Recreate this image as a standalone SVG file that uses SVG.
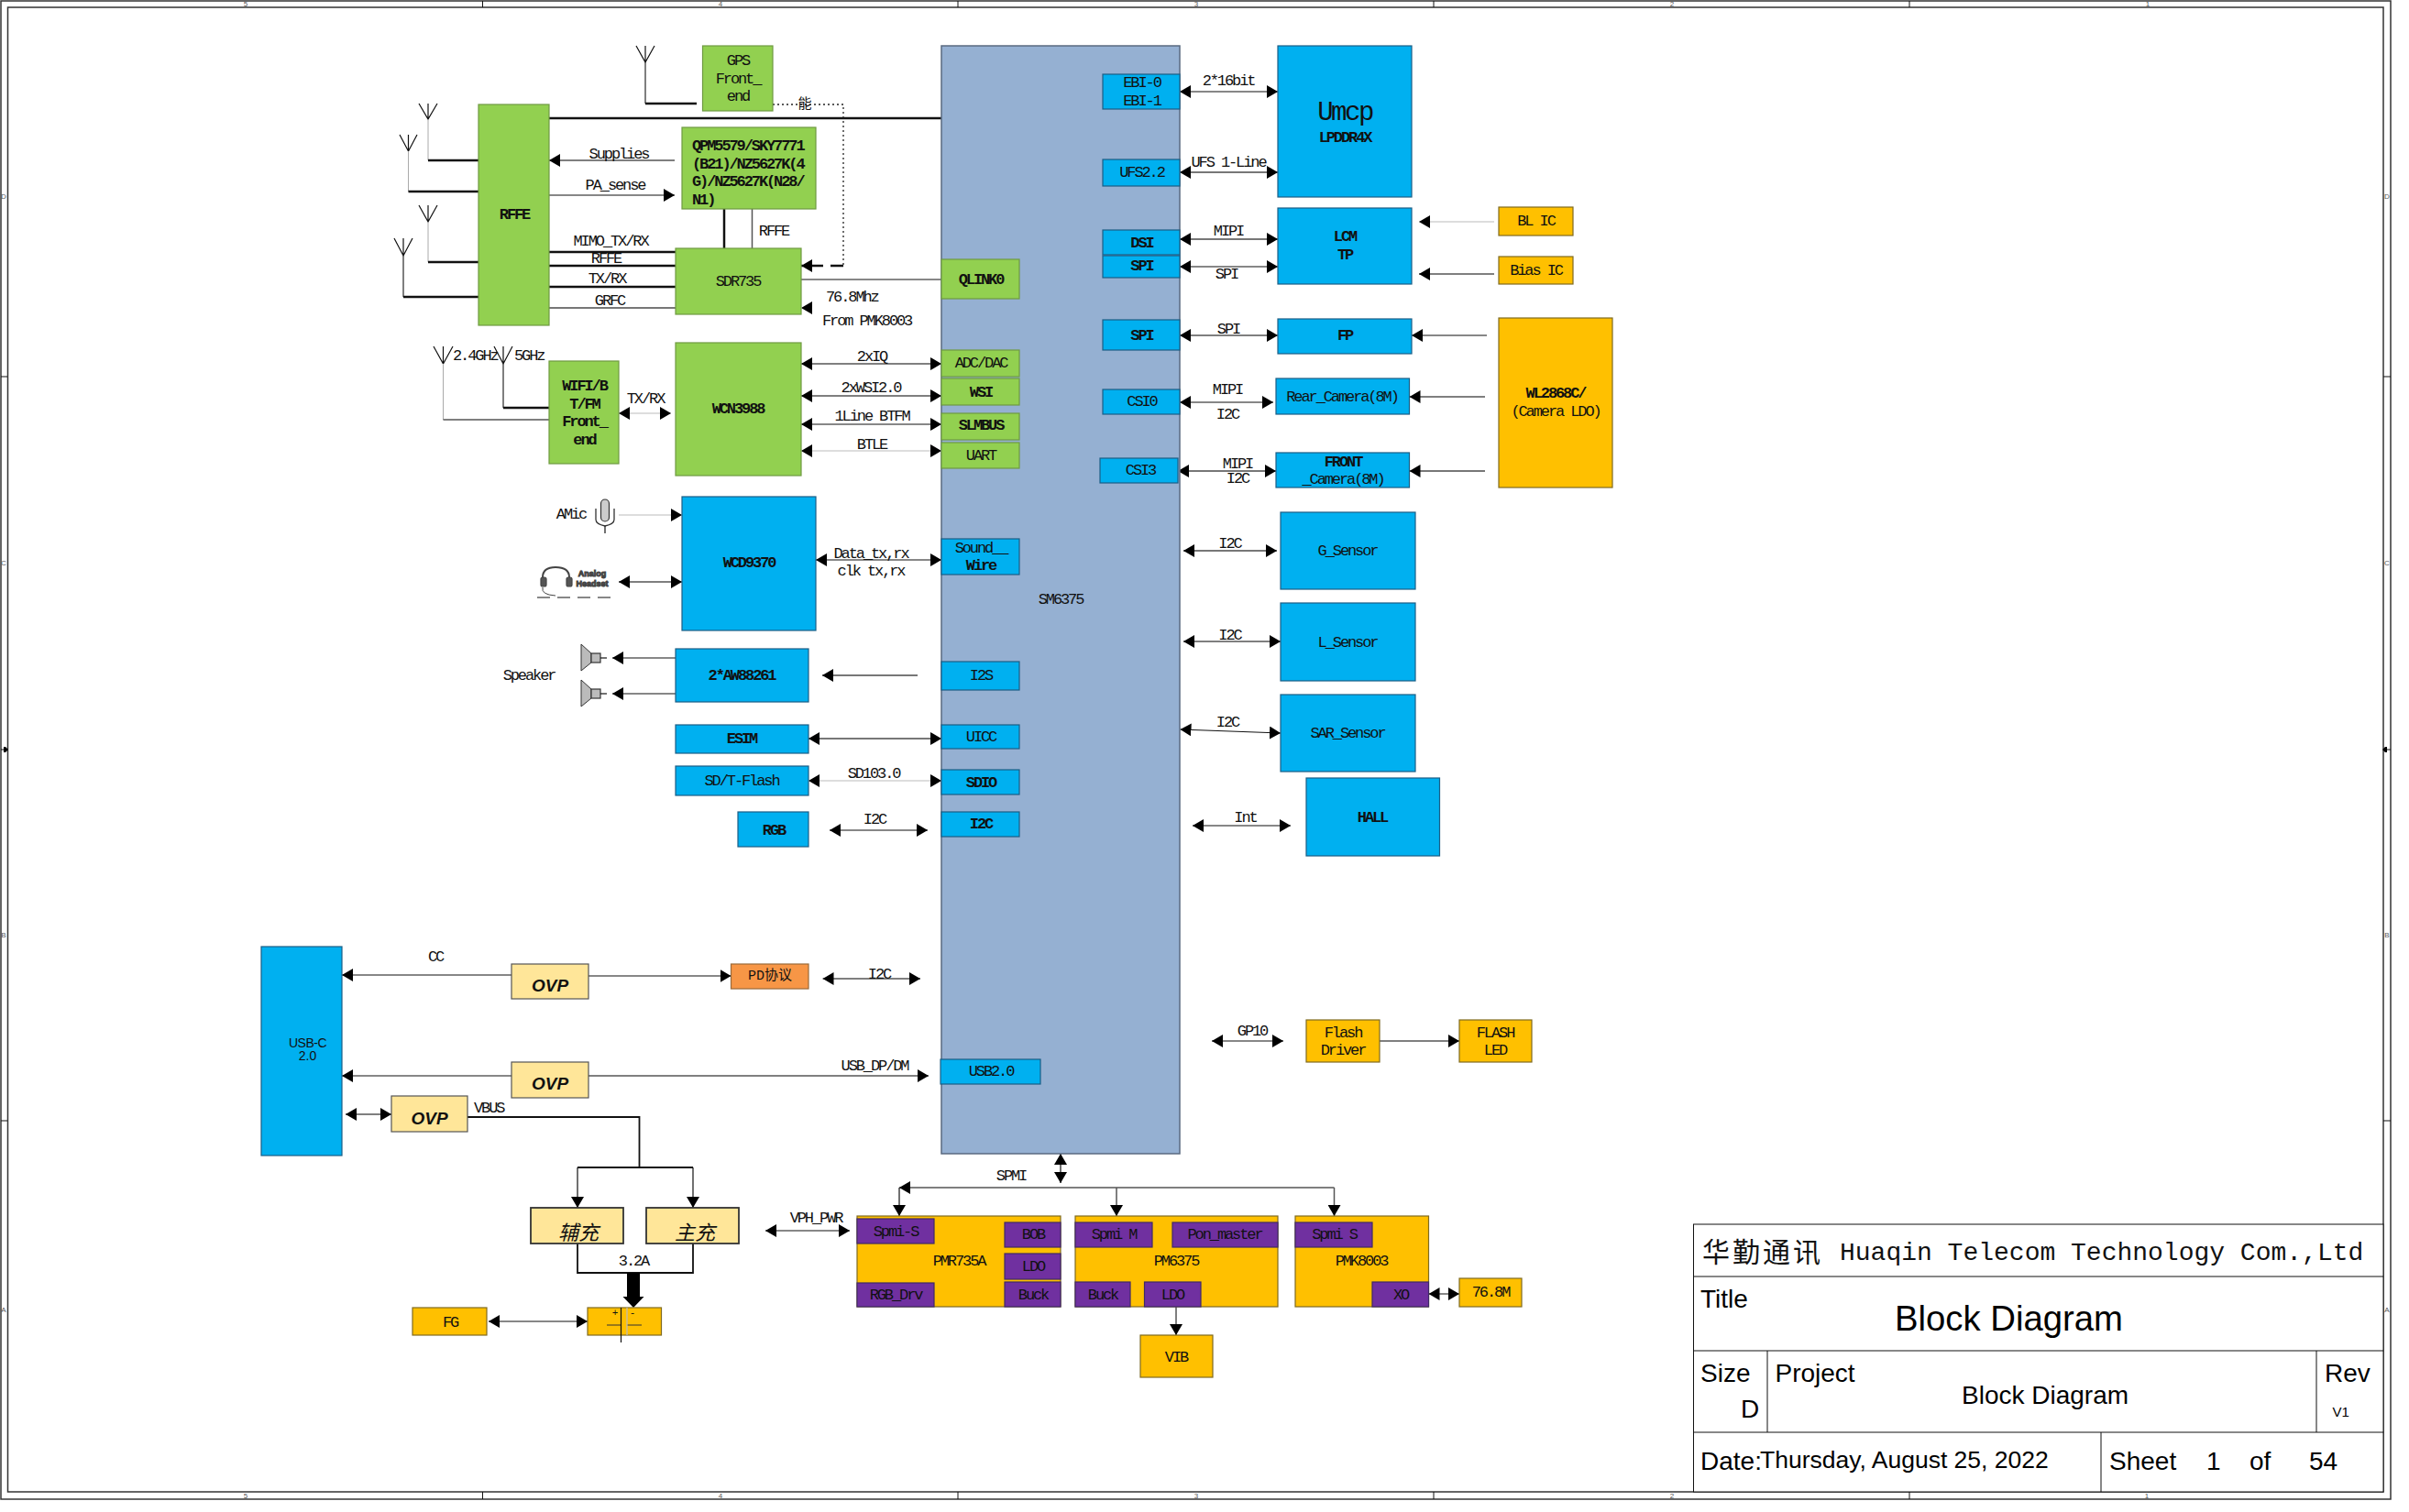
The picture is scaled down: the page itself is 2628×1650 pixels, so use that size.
<svg xmlns="http://www.w3.org/2000/svg" width="2628" height="1650" viewBox="0 0 2628 1650">
<style>
text{font-family:"Liberation Mono","Noto Sans CJK SC",monospace;font-size:17px;letter-spacing:-2.1px;fill:#111;dominant-baseline:central;text-anchor:middle}
.n text,text.b{font-weight:bold}
.st{text-anchor:start}
.sans{font-family:"Liberation Sans","Noto Sans CJK SC",sans-serif;letter-spacing:0;font-weight:normal;dominant-baseline:auto;text-anchor:start;font-size:28px;fill:#000}
.tick{font-family:"Liberation Sans",sans-serif;font-size:8px;letter-spacing:0;fill:#555}
.ovp{font-family:"Liberation Sans",sans-serif;font-size:19px;letter-spacing:0;fill:#111;font-style:italic}
.ch{font-family:"Noto Sans CJK SC",sans-serif;font-style:italic;font-size:22px;letter-spacing:0}
rect{stroke-width:1.2}
.blue{fill:#00B0F0;stroke:#1B5E85}
.green{fill:#92D050;stroke:#6F9A42}
.org{fill:#FFC000;stroke:#7F6A20}
.soc{fill:#95B0D2;stroke:#5A6A80;stroke-width:1.5}
.pur{fill:#7030A0;stroke:#3E2A66}
.ovpb{fill:#FFE699;stroke:#555}
.pd{fill:#F79646;stroke:#9A6A3A}
line,polyline,path.w{fill:none;stroke:#111;stroke-width:1.2}
.g{stroke:#777;stroke-width:2}
.g1{stroke:#555;stroke-width:1.5}
.lg{stroke:#BBB;stroke-width:1.2}
.t{stroke:#111;stroke-width:2.5}
.fr{fill:none;stroke:#333;stroke-width:1.5}
.tb{stroke:#111;stroke-width:1}
.both{marker-start:url(#a);marker-end:url(#a)}
.end{marker-end:url(#a)}
.ant{stroke:#444;stroke-width:.9}
.av{stroke:#AAA;stroke-width:1}
</style>
<defs>
<marker id="a" markerUnits="userSpaceOnUse" markerWidth="12" markerHeight="14" viewBox="0 0 12 14" refX="12" refY="7" orient="auto-start-reverse"><path d="M0 0L12 7L0 14Z" fill="#000"/></marker>
</defs>
<rect width="2628" height="1650" fill="#fff" style="stroke:none"/>
<g id="frame">
<rect class="fr" x="1" y="1" width="2607" height="1635"/>
<rect class="fr" x="8.5" y="8" width="2591.5" height="1620"/>
<line class="tb" x1="526.5" y1="1" x2="526.5" y2="8"/><line class="tb" x1="1045" y1="1" x2="1045" y2="8"/><line class="tb" x1="1564" y1="1" x2="1564" y2="8"/><line class="tb" x1="2083" y1="1" x2="2083" y2="8"/>
<line class="tb" x1="526.5" y1="1628" x2="526.5" y2="1636"/><line class="tb" x1="1045" y1="1628" x2="1045" y2="1636"/><line class="tb" x1="1564" y1="1628" x2="1564" y2="1636"/><line class="tb" x1="2083" y1="1628" x2="2083" y2="1636"/>
<line class="tb" x1="1" y1="411" x2="8" y2="411"/><line class="tb" x1="1" y1="818" x2="8" y2="818"/><line class="tb" x1="1" y1="1223" x2="8" y2="1223"/>
<line class="tb" x1="2600" y1="411" x2="2608" y2="411"/><line class="tb" x1="2600" y1="818" x2="2608" y2="818"/><line class="tb" x1="2600" y1="1223" x2="2608" y2="1223"/>
<path d="M4 815h2l3 3l-3 3h-2z" fill="#000"/><path d="M2604 815h-2l-3 3l3 3h2z" fill="#000"/>
<text class="tick" x="268" y="4.5">5</text><text class="tick" x="786" y="4.5">4</text><text class="tick" x="1305" y="4.5">3</text><text class="tick" x="1824" y="4.5">2</text><text class="tick" x="2343" y="4.5">1</text>
<text class="tick" x="268" y="1632">5</text><text class="tick" x="786" y="1632">4</text><text class="tick" x="1305" y="1632">3</text><text class="tick" x="1824" y="1632">2</text><text class="tick" x="2342" y="1632">1</text>
<text class="tick" x="4" y="214">D</text><text class="tick" x="4" y="614">C</text><text class="tick" x="4" y="1020">B</text><text class="tick" x="4" y="1429">A</text>
<text class="tick" x="2604" y="214">D</text><text class="tick" x="2604" y="614">C</text><text class="tick" x="2604" y="1020">B</text><text class="tick" x="2604" y="1429">A</text>
</g>
<g id="connectors">
<g id="antennas">
<path class="w ant" d="M467 113V130M457 113L467 130L477 113"/><line class="av" x1="467" y1="130" x2="467" y2="175"/><line class="t" x1="467" y1="175" x2="522" y2="175"/>
<path class="w ant" d="M445.5 147V165M436 147L445.5 165L455 147"/><line class="av" x1="445.5" y1="165" x2="445.5" y2="209"/><line class="t" x1="445.5" y1="209" x2="524" y2="209"/>
<path class="w ant" d="M467 224V242M457 224L467 242L477 224"/><line class="av" x1="467" y1="242" x2="467" y2="286"/><line class="t" x1="467" y1="286" x2="522" y2="286"/>
<path class="w ant" d="M440 260V279M430 260L440 279L450 260"/><line class="g1" x1="440" y1="279" x2="440" y2="324"/><line class="t" x1="440" y1="324" x2="522" y2="324"/>
<path class="w ant" d="M704 50V68M694 50L704 68L714 50"/><line class="g1" x1="704" y1="68" x2="704" y2="113"/><line class="t" x1="704" y1="113" x2="760" y2="113"/>
<path class="w ant" d="M483.5 378V397M473 378L483.5 397L494 378"/><line class="av" x1="483.5" y1="397" x2="483.5" y2="458"/><line class="g1" x1="483.5" y1="458" x2="599" y2="458"/>
<path class="w ant" d="M549 378V397M539 378L549 397L559 378"/><line class="g1" x1="549" y1="397" x2="549" y2="445"/><line class="t" x1="549" y1="445" x2="599" y2="445"/>
</g>
<line class="t" style="stroke-width:2.5" x1="599" y1="129" x2="1027" y2="129"/>
<path d="M843 114H920V290" fill="none" stroke="#222" stroke-width="1.3" stroke-dasharray="2 3"/>
<line class="t end" stroke-dasharray="14 8" x1="920" y1="290" x2="874" y2="290"/>
<line class="g1 end" x1="736" y1="175" x2="599" y2="175"/>
<line class="end" x1="599" y1="213" x2="736" y2="213"/>
<line class="t" x1="790" y1="228" x2="790" y2="271"/>
<line class="g1" x1="820.5" y1="228" x2="820.5" y2="271"/>
<line class="t" x1="599" y1="275" x2="737" y2="275"/>
<line class="t" x1="599" y1="290" x2="737" y2="290"/>
<line class="t" x1="599" y1="313" x2="737" y2="313"/>
<line class="g" x1="599" y1="336" x2="737" y2="336"/>
<line x1="874" y1="305" x2="1027" y2="305"/>
<path d="M874 336L886 329V343Z" fill="#000"/>
<line class="lg both" x1="675" y1="451" x2="732" y2="451"/>
<line class="g1 both" x1="874" y1="397" x2="1027" y2="397"/>
<line class="g1 both" x1="874" y1="432" x2="1027" y2="432"/>
<line class="both" x1="874" y1="463" x2="1027" y2="463"/>
<line class="lg both" x1="874" y1="492" x2="1027" y2="492"/>
<line class="lg end" x1="675" y1="562" x2="744" y2="562"/>
<line class="g1 both" x1="675" y1="635" x2="744" y2="635"/>
<line class="both" x1="890" y1="611" x2="1027" y2="611"/>
<line class="end" x1="737" y1="718" x2="668" y2="718"/>
<line class="end" x1="737" y1="757" x2="668" y2="757"/>
<line class="g end" x1="1001" y1="737" x2="897" y2="737"/>
<line class="g both" x1="882" y1="806" x2="1027" y2="806"/>
<line class="lg both" x1="882" y1="852" x2="1027" y2="852"/>
<line class="both" x1="905" y1="906" x2="1012" y2="906"/>
<line class="both" x1="1287" y1="100" x2="1394" y2="100"/>
<line class="g both" x1="1287" y1="188" x2="1394" y2="188"/>
<line class="g both" x1="1287" y1="261" x2="1394" y2="261"/>
<line class="both" x1="1287" y1="291" x2="1394" y2="291"/>
<line class="lg end" x1="1630" y1="242" x2="1548" y2="242"/>
<line class="g1 end" x1="1630" y1="299" x2="1548" y2="299"/>
<line class="g1 both" x1="1287" y1="366" x2="1394" y2="366"/>
<line class="end" x1="1622" y1="366" x2="1540" y2="366"/>
<line class="both" x1="1287" y1="439" x2="1389" y2="439"/>
<line class="g1 end" x1="1620" y1="433" x2="1537.5" y2="433"/>
<line class="g both" x1="1285" y1="514" x2="1392" y2="514"/>
<line class="g end" x1="1620" y1="514" x2="1537.5" y2="514"/>
<line class="g both" x1="1291" y1="601" x2="1393" y2="601"/>
<line class="g1 both" x1="1291" y1="700" x2="1397" y2="700"/>
<line class="both" x1="1287.5" y1="796" x2="1397" y2="800"/>
<line class="both" x1="1301" y1="901" x2="1408" y2="901"/>
<line class="end" x1="558" y1="1064" x2="373" y2="1064"/>
<line class="end" x1="642" y1="1065" x2="797.5" y2="1065"/>
<line class="g1 both" x1="897.5" y1="1068" x2="1004" y2="1068"/>
<line class="end" x1="558" y1="1174" x2="373" y2="1174"/>
<line class="g1 end" x1="642" y1="1174" x2="1013" y2="1174"/>
<line class="g1 both" x1="377" y1="1216" x2="427" y2="1216"/>
<polyline style="stroke-width:1.8" points="510,1219 697.5,1219 697.5,1274"/>
<line style="stroke-width:1.8" x1="630" y1="1274" x2="756" y2="1274"/>
<line class="end" x1="630" y1="1274" x2="630" y2="1318"/>
<line class="end" x1="756" y1="1274" x2="756" y2="1318"/>
<polyline style="stroke-width:1.8" points="630,1357 630,1389 756,1389 756,1357"/>
<path d="M684 1389H698V1415H702.500L691 1427L679.500 1415H684Z" fill="#000"/>
<line class="both" x1="533" y1="1442" x2="641" y2="1442"/>
<line class="both" x1="835" y1="1343" x2="927" y2="1343"/>
<line class="both" x1="1157" y1="1259" x2="1157" y2="1291"/>
<line class="g1" x1="981" y1="1296" x2="1455.5" y2="1296"/>
<path d="M981 1296L993 1289V1303Z" fill="#000"/>
<line class="end" x1="981" y1="1296" x2="981" y2="1327"/>
<line class="g1 end" x1="1218" y1="1296" x2="1218" y2="1327"/>
<line class="g1 end" x1="1455.500" y1="1296" x2="1455.500" y2="1327"/>
<line class="g1 end" x1="1283" y1="1426" x2="1283" y2="1457"/>
<line class="both" x1="1558.500" y1="1412" x2="1592" y2="1412"/>
<line class="both" x1="1322" y1="1136" x2="1400" y2="1136"/>
<line class="g1 end" x1="1505" y1="1136" x2="1592" y2="1136"/>
</g>
<g id="connector-labels">
<text x="878" y="114" style="font-size:15px;letter-spacing:0">能</text>
<text x="675" y="168">Supplies</text><text x="671" y="202">PA_sense</text><text x="844" y="252">RFFE</text>
<text x="666" y="263">MIMO_TX/RX</text><text x="661" y="282">RFFE</text><text x="662" y="304">TX/RX</text><text x="665" y="328">GRFC</text>
<text class="st" x="901" y="324">76.8Mhz</text><text class="st" x="897" y="350">From PMK8003</text>
<text class="st" x="494" y="388">2.4GHz</text><text class="st" x="561" y="388">5GHz</text><text x="704" y="435">TX/RX</text>
<text x="951" y="389">2xIQ</text><text x="950" y="423">2xWSI2.0</text><text x="951" y="454">1Line BTFM</text><text x="951" y="485">BTLE</text>
<text x="623" y="561">AMic</text><text x="950" y="604">Data_tx,rx</text><text x="950" y="623">clk tx,rx</text><text x="577" y="737">Speaker</text>
<text x="953" y="844">SD103.0</text><text x="954" y="894">I2C</text>
<text x="1340" y="88">2*16bit</text><text x="1340" y="177">UFS 1-Line</text><text x="1340" y="252">MIPI</text><text x="1338" y="299">SPI</text><text x="1340" y="359">SPI</text>
<text x="1339" y="425">MIPI</text><text x="1339" y="452">I2C</text><text x="1350" y="506">MIPI</text><text x="1350" y="522">I2C</text>
<text x="1341.500" y="593">I2C</text><text x="1341.500" y="693">I2C</text><text x="1339" y="788">I2C</text><text x="1358.500" y="892">Int</text>
<text x="475" y="1044">CC</text><text x="959" y="1063">I2C</text><text x="954" y="1163">USB_DP/DM</text>
<text class="st" x="517" y="1209">VBUS</text><text x="691" y="1376">3.2A</text><text x="890" y="1329">VPH_PWR</text>
<text x="1103" y="1283">SPMI</text><text x="1366" y="1125">GP10</text>
</g>
<g id="icons">
<g id="mic" fill="none" stroke="#333" stroke-width="1.3"><rect x="655.500" y="545" width="9" height="24" rx="4.500" fill="#ccc" stroke="#333"/><path d="M650 555V567Q650 572 660 574Q670 572 670 567V555"/><line x1="660" y1="574" x2="660" y2="582"/></g>
<g id="headset" fill="none" stroke="#444"><path d="M592 638V630Q592 619 606 619Q621 619 621 630V638" stroke-width="2"/><rect x="590" y="630" width="6" height="10" rx="2" fill="#555"/><rect x="618" y="630" width="6" height="10" rx="2" fill="#555"/><path d="M592 641Q590 649 606 650" stroke-width="1"/><line x1="586" y1="652" x2="672" y2="652" stroke="#ccc" stroke-width="1" stroke-dasharray="14 8"/>
<text x="646" y="626" style="font-family:'Liberation Sans',sans-serif;font-size:9px;letter-spacing:0;font-weight:bold;fill:#555">Analog</text><text x="646" y="637" style="font-family:'Liberation Sans',sans-serif;font-size:9px;letter-spacing:0;font-weight:bold;fill:#555">Headset</text></g>
<g id="speaker1" stroke="#333" stroke-width="1"><polygon points="634,703 645,713 645,723 634,732" fill="#BBB"/><rect x="645" y="713" width="10" height="10" fill="#BBB" stroke="#333"/><line x1="655" y1="718" x2="662" y2="718"/></g>
<g id="speaker2" stroke="#333" stroke-width="1"><polygon points="634,742 645,752 645,762 634,771" fill="#BBB"/><rect x="645" y="752" width="10" height="10" fill="#BBB" stroke="#333"/><line x1="655" y1="757" x2="662" y2="757"/></g>
</g>
<g class="n">
<g id="soc"><rect class="soc" x="1027" y="50" width="260" height="1209"/><text x="1157" y="654" style="font-weight:normal">SM6375</text></g>
<g id="gps"><rect class="green" x="766.500" y="50" width="76.500" height="71"/><text x="805" y="66" style="font-weight:normal">GPS</text><text x="805" y="86" style="font-weight:normal">Front_</text><text x="805" y="105" style="font-weight:normal">end</text></g>
<g id="rffe"><rect class="green" x="522" y="114" width="77" height="241"/><text x="561" y="234">RFFE</text></g>
<g id="qpm"><rect class="green" x="744" y="139" width="146" height="89"/><text class="st" x="755" y="159">QPM5579/SKY7771</text><text class="st" x="755" y="179">(B21)/NZ5627K(4</text><text class="st" x="755" y="198">G)/NZ5627K(N28/</text><text class="st" x="755" y="218">N1)</text></g>
<g id="sdr"><rect class="green" x="737" y="271" width="137" height="72"/><text x="805" y="307" style="font-weight:normal">SDR735</text></g>
<g id="wifi"><rect class="green" x="599" y="394" width="76" height="112"/><text x="637.500" y="421">WIFI/B</text><text x="637.500" y="441">T/FM</text><text x="637.500" y="460">Front_</text><text x="637.500" y="480">end</text></g>
<g id="wcn"><rect class="green" x="737" y="374" width="137" height="145"/><text x="805" y="446">WCN3988</text></g>
<g id="qlink"><rect class="green" x="1027" y="283" width="85" height="43"/><text x="1070" y="305">QLINK0</text></g>
<g id="adc"><rect class="green" x="1027" y="382" width="85" height="29"/><text x="1070" y="396" style="font-weight:normal">ADC/DAC</text></g>
<g id="wsi"><rect class="green" x="1027" y="413" width="85" height="29"/><text x="1070" y="428">WSI</text></g>
<g id="slmbus"><rect class="green" x="1027" y="451" width="85" height="29"/><text x="1070" y="464">SLMBUS</text></g>
<g id="uart"><rect class="green" x="1027" y="483" width="85" height="28"/><text x="1070" y="497" style="font-weight:normal">UART</text></g>
<g id="wcd"><rect class="blue" x="744" y="542" width="146" height="146"/><text x="817" y="614">WCD9370</text></g>
<g id="sound"><rect class="blue" x="1027" y="588" width="85" height="39"/><text x="1070" y="598" style="font-weight:normal">Sound__</text><text x="1070" y="617">Wire</text></g>
<g id="aw"><rect class="blue" x="737" y="708" width="145" height="58"/><text x="809" y="737">2*AW88261</text></g>
<g id="i2s"><rect class="blue" x="1027" y="722" width="85" height="31"/><text x="1070" y="737" style="font-weight:normal">I2S</text></g>
<g id="esim"><rect class="blue" x="737" y="791" width="145" height="31"/><text x="809" y="806">ESIM</text></g>
<g id="uicc"><rect class="blue" x="1027" y="791" width="85" height="26"/><text x="1070" y="804" style="font-weight:normal">UICC</text></g>
<g id="sd"><rect class="blue" x="737" y="836" width="145" height="32"/><text x="809" y="852" style="font-weight:normal">SD/T-Flash</text></g>
<g id="sdio"><rect class="blue" x="1027" y="840" width="85" height="27"/><text x="1070" y="854">SDIO</text></g>
<g id="rgb"><rect class="blue" x="805" y="886" width="77" height="38"/><text x="844" y="906">RGB</text></g>
<g id="i2c"><rect class="blue" x="1027" y="886" width="85" height="27"/><text x="1070" y="899">I2C</text></g>
<g id="ebi"><rect class="blue" x="1203" y="81" width="84" height="38"/><text x="1245.500" y="90" style="font-weight:normal">EBI-0</text><text x="1245.500" y="110" style="font-weight:normal">EBI-1</text></g>
<g id="ufs"><rect class="blue" x="1203" y="174" width="84" height="29"/><text x="1245.500" y="188" style="font-weight:normal">UFS2.2</text></g>
<g id="dsi"><rect class="blue" x="1203" y="251" width="84" height="27"/><text x="1245.500" y="265">DSI</text></g>
<g id="spi1"><rect class="blue" x="1203" y="279" width="84" height="24"/><text x="1245.500" y="290">SPI</text></g>
<g id="spi2"><rect class="blue" x="1203" y="349" width="84" height="33"/><text x="1245.500" y="366">SPI</text></g>
<g id="csi0"><rect class="blue" x="1203" y="425" width="84" height="27"/><text x="1245.500" y="438" style="font-weight:normal">CSI0</text></g>
<g id="csi3"><rect class="blue" x="1200" y="500" width="85" height="27"/><text x="1244" y="513" style="font-weight:normal">CSI3</text></g>
<g id="umcp"><rect class="blue" x="1394" y="50" width="146" height="165"/><text x="1467" y="123" style="font-size:29px;letter-spacing:-2.500px;font-weight:normal">Umcp</text><text x="1467" y="150">LPDDR4X</text></g>
<g id="lcm"><rect class="blue" x="1394" y="227" width="146" height="83"/><text x="1467" y="258">LCM</text><text x="1467" y="278">TP</text></g>
<g id="fp"><rect class="blue" x="1394" y="348" width="146" height="38"/><text x="1467" y="366">FP</text></g>
<g id="rear"><rect class="blue" x="1392" y="413" width="145.500" height="39"/><text x="1464" y="433" style="font-weight:normal">Rear_Camera(8M)</text></g>
<g id="front"><rect class="blue" x="1392" y="494" width="145.500" height="38"/><text x="1465" y="504">FRONT</text><text x="1465" y="523" style="font-weight:normal">_Camera(8M)</text></g>
<g id="bl"><rect class="org" x="1635" y="226" width="81" height="31"/><text x="1675.500" y="241" style="font-weight:normal">BL IC</text></g>
<g id="bias"><rect class="org" x="1635" y="280" width="81" height="30"/><text x="1675.500" y="295" style="font-weight:normal">Bias IC</text></g>
<g id="wl"><rect class="org" x="1635" y="347" width="124" height="185"/><text x="1697" y="429">WL2868C/</text><text x="1697" y="449" style="font-weight:normal">(Camera LDO)</text></g>
<g id="g-sensor"><rect class="blue" x="1397" y="559" width="147" height="84"/><text x="1470" y="601" style="font-weight:normal">G_Sensor</text></g>
<g id="l-sensor"><rect class="blue" x="1397" y="658" width="147" height="85"/><text x="1470" y="701" style="font-weight:normal">L_Sensor</text></g>
<g id="sar"><rect class="blue" x="1397" y="758" width="147" height="84"/><text x="1470" y="800" style="font-weight:normal">SAR_Sensor</text></g>
<g id="hall"><rect class="blue" x="1425" y="849" width="145.500" height="85"/><text x="1497" y="892">HALL</text></g>
<g id="usbc"><rect class="blue" x="285" y="1033" width="88" height="228"/><text x="335.500" y="1138" style="font-family:'Liberation Sans',sans-serif;font-size:14px;letter-spacing:-.5px;font-weight:normal">USB-C</text><text x="335.500" y="1152" style="font-family:'Liberation Sans',sans-serif;font-size:14px;letter-spacing:0;font-weight:normal">2.0</text></g>
<g id="ovp1"><rect class="ovpb" x="558" y="1052" width="84" height="38"/><text class="ovp" x="600" y="1075">OVP</text></g>
<g id="ovp2"><rect class="ovpb" x="558" y="1159" width="84" height="39"/><text class="ovp" x="600" y="1182">OVP</text></g>
<g id="ovp3"><rect class="ovpb" x="427" y="1196" width="83" height="39"/><text class="ovp" x="468.500" y="1220">OVP</text></g>
<g id="pd"><rect class="pd" x="797.500" y="1052" width="84.500" height="27"/><text x="840" y="1065" style="font-weight:normal;font-size:15px;letter-spacing:0">PD协议</text></g>
<g id="usb2"><rect class="blue" x="1026" y="1156" width="109" height="27"/><text x="1081" y="1169" style="font-weight:normal">USB2.0</text></g>
<g id="aux"><rect class="ovpb" style="stroke:#333;stroke-width:1.8" x="579" y="1318" width="101" height="39"/><text class="ch" x="631" y="1343" style="font-weight:normal">辅充</text></g>
<g id="main"><rect class="ovpb" style="stroke:#333;stroke-width:1.8" x="705" y="1318" width="101" height="39"/><text class="ch" x="758" y="1343" style="font-weight:normal">主充</text></g>
<g id="fg"><rect class="org" x="450" y="1427" width="81" height="30"/><text x="491" y="1443" style="font-weight:normal">FG</text></g>
<g id="battery"><rect class="org" x="641" y="1427" width="80.500" height="30"/><text x="671" y="1433" style="font-size:11px;font-weight:normal;letter-spacing:0">+</text><text x="690" y="1433" style="font-size:11px;font-weight:normal;letter-spacing:0">-</text><path d="M662 1446H677M684 1446H700" stroke="#333" stroke-width="1"/><line x1="677.500" y1="1427" x2="677.500" y2="1465"/><line x1="684" y1="1427" x2="684" y2="1457" class="lg"/></g>
<g id="pmr"><rect class="org" x="935" y="1327" width="222" height="99"/><text x="1046" y="1376" style="font-weight:normal">PMR735A</text></g>
<g id="pmr-spmi"><rect class="pur" x="935" y="1330" width="84" height="27"/><text x="977" y="1344" style="font-weight:normal">Spmi-S</text></g>
<g id="pmr-bob"><rect class="pur" x="1096" y="1334" width="61" height="27"/><text x="1127" y="1347" style="font-weight:normal">BOB</text></g>
<g id="pmr-ldo"><rect class="pur" x="1096" y="1368" width="61" height="28"/><text x="1127" y="1382" style="font-weight:normal">LDO</text></g>
<g id="pmr-buck"><rect class="pur" x="1096" y="1399" width="61" height="27"/><text x="1127" y="1413" style="font-weight:normal">Buck</text></g>
<g id="pmr-rgb"><rect class="pur" x="935" y="1400" width="84" height="26"/><text x="977" y="1413" style="font-weight:normal">RGB_Drv</text></g>
<g id="pm6375"><rect class="org" x="1173" y="1327" width="221" height="99"/><text x="1283" y="1376" style="font-weight:normal">PM6375</text></g>
<g id="pm-spmi"><rect class="pur" x="1173" y="1334" width="84" height="27"/><text x="1215" y="1347" style="font-weight:normal">Spmi M</text></g>
<g id="pm-pon"><rect class="pur" x="1279" y="1334" width="115" height="27"/><text x="1336" y="1347" style="font-weight:normal">Pon_master</text></g>
<g id="pm-buck"><rect class="pur" x="1173" y="1399" width="60" height="27"/><text x="1203" y="1413" style="font-weight:normal">Buck</text></g>
<g id="pm-ldo"><rect class="pur" x="1248.500" y="1399" width="61.500" height="27"/><text x="1279" y="1413" style="font-weight:normal">LDO</text></g>
<g id="pmk"><rect class="org" x="1413" y="1327" width="145.500" height="99"/><text x="1485" y="1376" style="font-weight:normal">PMK8003</text></g>
<g id="pmk-spmi"><rect class="pur" x="1413" y="1334" width="84" height="27"/><text x="1455.500" y="1347" style="font-weight:normal">Spmi S</text></g>
<g id="pmk-xo"><rect class="pur" x="1497" y="1399" width="61.500" height="27"/><text x="1528" y="1413" style="font-weight:normal">XO</text></g>
<g id="xo768"><rect class="org" x="1592" y="1395" width="68" height="31"/><text x="1626" y="1410" style="font-weight:normal">76.8M</text></g>
<g id="vib"><rect class="org" x="1244" y="1457" width="79" height="46"/><text x="1283" y="1481" style="font-weight:normal">VIB</text></g>
<g id="flash-driver"><rect class="org" x="1425" y="1113" width="80" height="46"/><text x="1465" y="1127" style="font-weight:normal">Flash</text><text x="1465" y="1146" style="font-weight:normal">Driver</text></g>
<g id="flash-led"><rect class="org" x="1592" y="1113" width="79" height="46"/><text x="1631" y="1127" style="font-weight:normal">FLASH</text><text x="1631" y="1146" style="font-weight:normal">LED</text></g>
</g>
<g id="titleblock">
<rect x="1847.500" y="1336" width="752.500" height="292" fill="#fff" stroke="#111" style="stroke-width:1"/>
<line class="tb" x1="1847.500" y1="1393" x2="2600" y2="1393"/><line class="tb" x1="1847.500" y1="1474" x2="2600" y2="1474"/><line class="tb" x1="1847.500" y1="1563" x2="2600" y2="1563"/>
<line class="tb" x1="1928" y1="1474" x2="1928" y2="1563"/><line class="tb" x1="2527" y1="1474" x2="2527" y2="1563"/><line class="tb" x1="2292" y1="1563" x2="2292" y2="1628"/>
<text class="st" x="1857" y="1364" style="font-family:'Noto Sans CJK SC',sans-serif;font-size:30px;letter-spacing:3px;font-weight:normal" fill="#222">华勤通讯</text>
<text class="st" x="2007" y="1367" style="font-size:28px;letter-spacing:0">Huaqin Telecom Technology Com.,Ltd</text>
<text class="sans" x="1855" y="1427">Title</text>
<text class="sans" x="2067" y="1452" style="font-size:38.300px">Block Diagram</text>
<text class="sans" x="1855" y="1508">Size</text><text class="sans" x="1899" y="1547">D</text>
<text class="sans" x="1936.500" y="1508">Project</text>
<text class="sans" x="2140" y="1532">Block Diagram</text>
<text class="sans" x="2536" y="1508">Rev</text><text class="sans" x="2544.500" y="1546" style="font-size:15px">V1</text>
<text class="sans" x="1855" y="1604">Date:</text><text class="sans" x="1920" y="1602" style="font-size:26.500px">Thursday, August 25, 2022</text>
<text class="sans" x="2301" y="1604">Sheet</text><text class="sans" x="2407" y="1604">1</text><text class="sans" x="2454" y="1604">of</text><text class="sans" x="2519" y="1604">54</text>
</g>
</svg>
